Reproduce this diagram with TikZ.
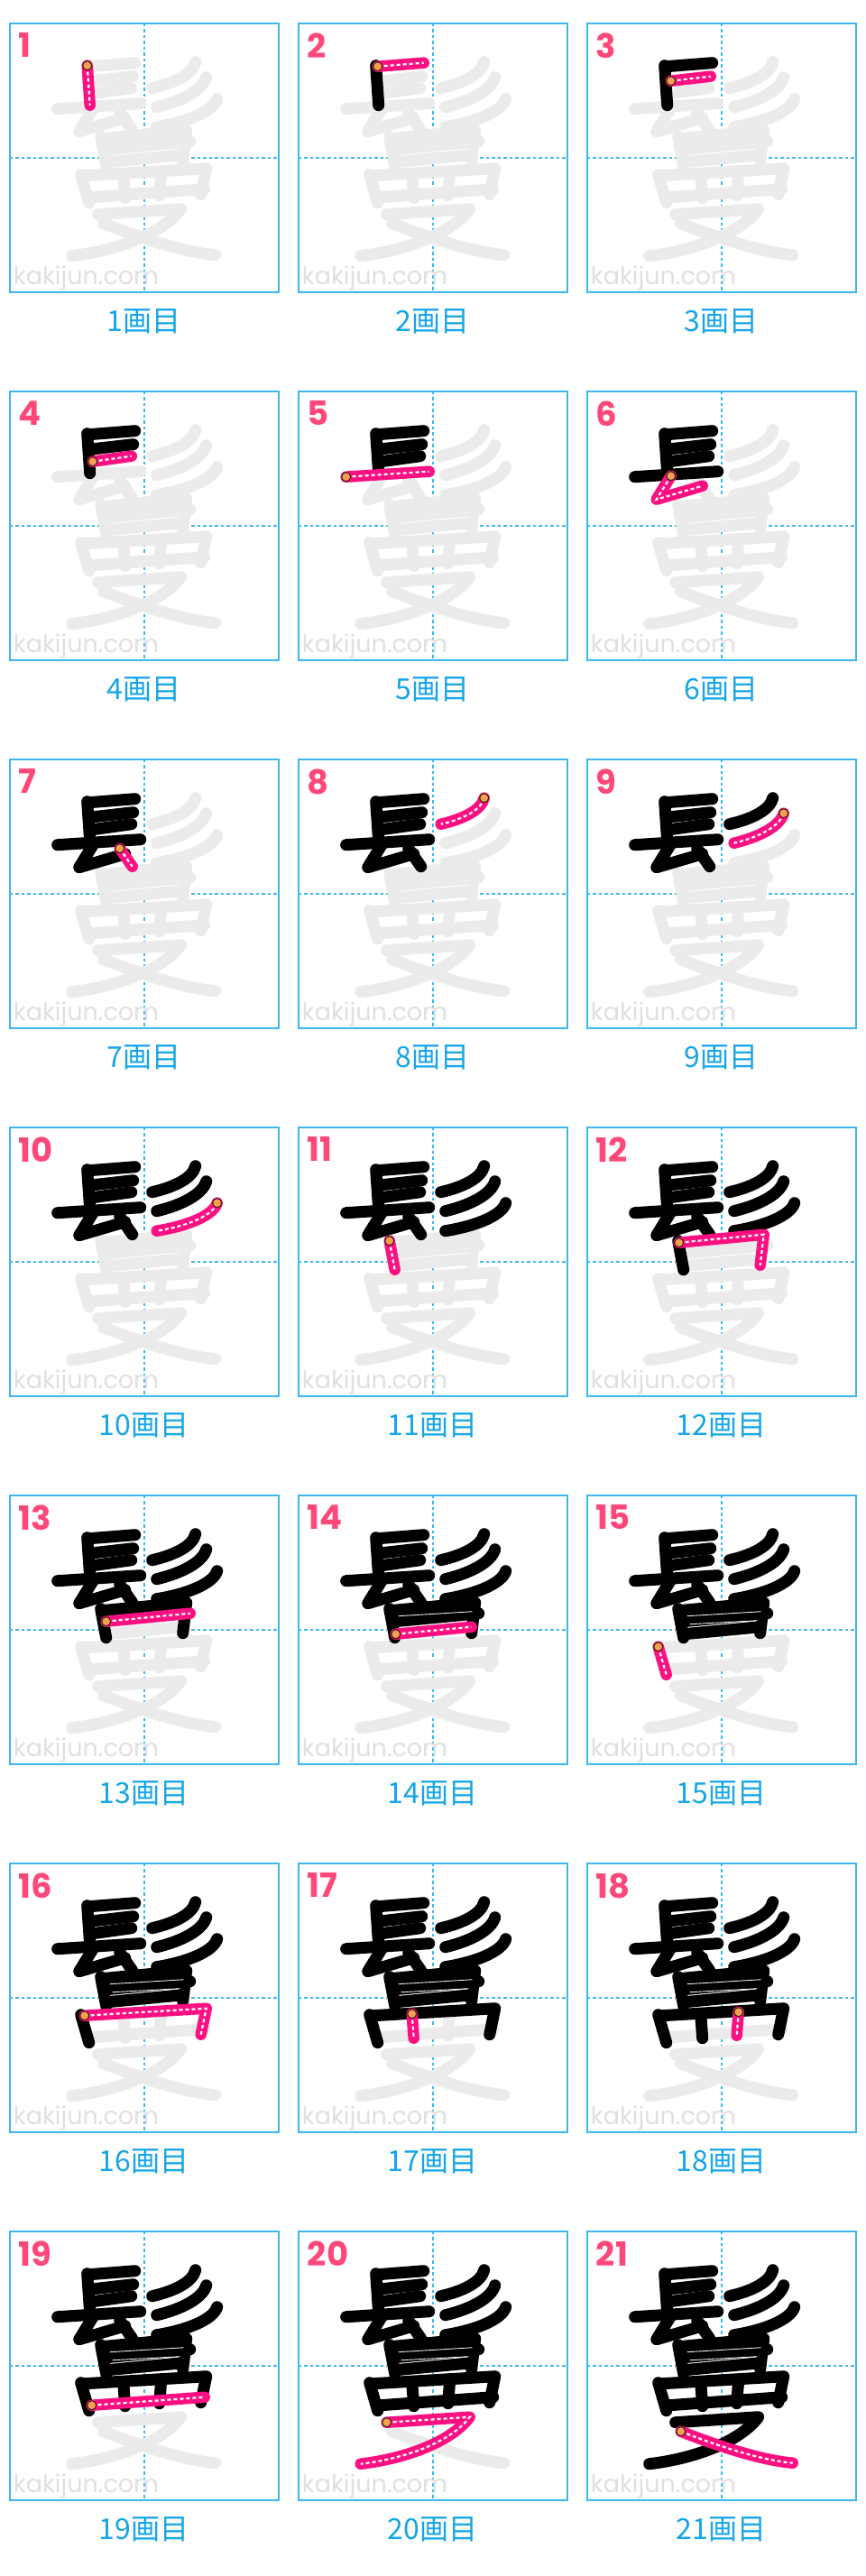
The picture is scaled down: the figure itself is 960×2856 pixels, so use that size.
\documentclass[tikz,border=0pt]{standalone}
\usepackage{fontspec}
\newfontfamily\numfont{Poppins}
\newfontfamily\capfont{Noto Sans CJK JP}
\definecolor{boxblue}{RGB}{60,184,238}
\definecolor{capblue}{RGB}{20,166,230}
\definecolor{numpink}{RGB}{255,72,122}
\definecolor{strokepink}{RGB}{255,16,130}
\definecolor{dotorange}{RGB}{245,160,80}
\definecolor{ghost}{RGB}{235,235,235}
\definecolor{wmgray}{RGB}{224,224,224}

% the 21 strokes, in box coordinates (0..298, y down)
\expandafter\def\csname kst1\endcsname{(86,47) coordinate (st) -- (89,91)}
\expandafter\def\csname kst2\endcsname{(88,48) coordinate (st) -- (139,44)}
\expandafter\def\csname kst3\endcsname{(93,64) coordinate (st) -- (137,59)}
\expandafter\def\csname kst4\endcsname{(92,78) coordinate (st) -- (135,72)}
\expandafter\def\csname kst5\endcsname{(53,95) coordinate (st) -- (145,89)}
\expandafter\def\csname kst6\endcsname{(93,94) coordinate (st) -- (77,120) -- (128,105)}
\expandafter\def\csname kst7\endcsname{(122,99) coordinate (st) -- (136,119)}
\expandafter\def\csname kst8\endcsname{(206,43) coordinate (st) .. controls (203,56) and (184,66) .. (158,72)}
\expandafter\def\csname kst9\endcsname{(218,60) coordinate (st) .. controls (214,74) and (192,86) .. (163,93)}
\expandafter\def\csname kst10\endcsname{(230,84) coordinate (st) .. controls (226,97) and (200,109) .. (163,115)}
\expandafter\def\csname kst11\endcsname{(101,126) coordinate (st) -- (107,158)}
\expandafter\def\csname kst12\endcsname{(102,128) coordinate (st) -- (196,119) -- (192,153)}
\expandafter\def\csname kst13\endcsname{(107,140) coordinate (st) -- (200,131)}
\expandafter\def\csname kst14\endcsname{(108,154) coordinate (st) -- (192,146)}
\expandafter\def\csname kst15\endcsname{(79,168) coordinate (st) -- (88,199)}
\expandafter\def\csname kst16\endcsname{(83,169) coordinate (st) -- (218,161) -- (212,190)}
\expandafter\def\csname kst17\endcsname{(126,167) coordinate (st) -- (128,194)}
\expandafter\def\csname kst18\endcsname{(168,165) coordinate (st) -- (166,191)}
\expandafter\def\csname kst19\endcsname{(91,193) coordinate (st) -- (216,184)}
\expandafter\def\csname kst20\endcsname{(98,212) coordinate (st) -- (190,206) .. controls (170,233) and (120,252) .. (69,258)}
\expandafter\def\csname kst21\endcsname{(104,222) coordinate (st) .. controls (150,240) and (195,254) .. (228,257)}

\begin{document}
\begin{tikzpicture}[x=1pt, y=-1pt,
    box/.style={draw=boxblue, line width=2pt},
    guide/.style={boxblue, line width=1.8pt, dash pattern=on 3.5pt off 3pt},
    ghoststroke/.style={ghost, line width=13pt, line cap=round, line join=round},
    donestroke/.style={black, line width=13pt, line cap=round, line join=round},
    seam/.style={white!85!gray, line width=0.9pt},
    curstroke/.style={strokepink, line width=12.5pt, line cap=round, line join=round},
    curdash/.style={white, line width=2.2pt, dash pattern=on 4pt off 3pt},
    startdot/.style={fill=dotorange, draw=black!75!brown, line width=1pt},
    numlabel/.style={anchor=north west, inner sep=0pt, text=numpink,
                     font=\numfont\bfseries\fontsize{37}{37}\selectfont},
    caption/.style={inner sep=0pt, text=capblue,
                    font=\capfont\fontsize{32}{32}\selectfont},
    wmark/.style={anchor=base west, inner sep=0pt, text=wmgray,
                  font=\numfont\fontsize{27}{27}\selectfont}
  ]
  \useasboundingbox (0,0) rectangle (960,2856);
  \fill[white] (0,0) rectangle (960,2856);

  \foreach \n in {1,...,21}{
    \pgfmathtruncatemacro\col{mod(\n-1,3)}
    \pgfmathtruncatemacro\row{div(\n-1,3)}
    \begin{scope}[shift={(10.7+320*\col,25.7+408*\row)}]
      \draw[guide] (149,0) -- (149,298);
      \draw[guide] (0,149) -- (298,149);
      \node[wmark] (wm\n) at (4,290) {kakijun.com};
      % whole character in grey
      \foreach \s in {1,...,21}{
        \expandafter\let\expandafter\kpath\csname kst\s\endcsname
        \draw[ghoststroke] \kpath;
      }
      % strokes already written
      \ifnum\n>1
        \pgfmathtruncatemacro\prev{\n-1}
        \foreach \s in {1,...,\prev}{
          \expandafter\let\expandafter\kpath\csname kst\s\endcsname
          \draw[donestroke] \kpath;
        }
      \fi
      \ifnum\n>13 \draw[seam] (111,134) -- (193,129); \fi
      \ifnum\n>14 \draw[seam] (114,143) -- (189,139); \fi
      % current stroke
      \expandafter\let\expandafter\kpath\csname kst\n\endcsname
      \draw[curstroke] \kpath;
      \draw[curdash] \kpath;
      \filldraw[startdot] (st) circle (5pt);
      \draw[box] (0,0) rectangle (298,298);
      \node[numlabel] (num\n) at (10,11) {\n};
      \node[caption] (cap\n) at (149,331) {\n{}画目};
    \end{scope}
  }
\end{tikzpicture}
\end{document}
